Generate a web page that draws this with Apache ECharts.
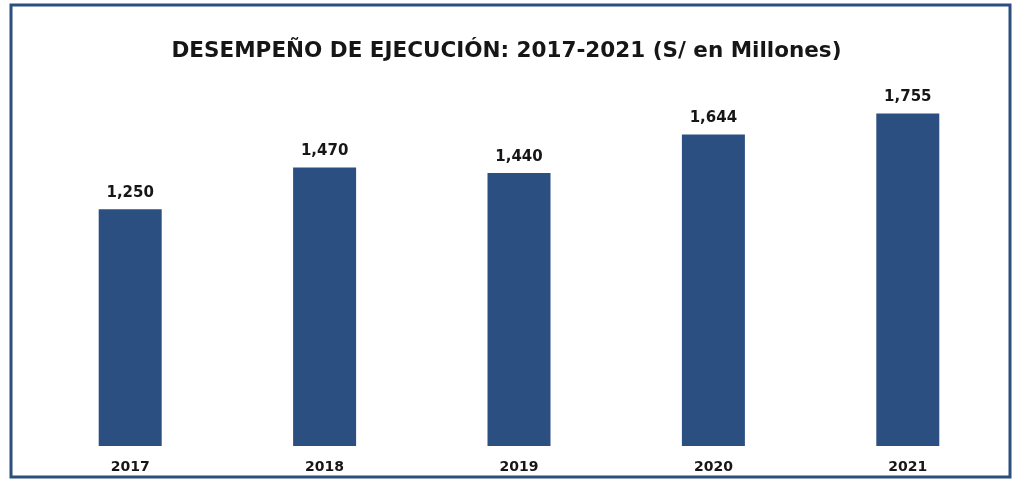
<!DOCTYPE html>
<html><head><meta charset="utf-8">
<script src="https://cdn.jsdelivr.net/npm/echarts@6/dist/echarts.min.js"></script>
<style>html,body{margin:0;padding:0;background:#fff}#c{width:1013px;height:479px}</style>
</head><body><div id="c"></div>
<script>
const categories = ['2017', '2018', '2019', '2020', '2021'];
const values = [1250, 1470, 1440, 1644, 1755];
const titleText = 'DESEMPEÑO DE EJECUCIÓN: 2017-2021 (S/ en Millones)';

const chart = echarts.init(document.getElementById('c'));
chart.setOption({
  backgroundColor: '#ffffff',
  animation: false,
  title: {
    text: titleText, left: 'center', top: 35,
    textStyle: { fontFamily: 'DejaVu Sans', fontWeight: 'bold', fontSize: 21.5, color: '#161616' }
  },
  grid: { left: 33, right: 8, top: 67, bottom: 33 },
  xAxis: {
    type: 'category', data: categories,
    axisLine: { show: false }, axisTick: { show: false },
    axisLabel: { margin: 14, fontFamily: 'DejaVu Sans', fontWeight: 'bold', fontSize: 14, color: '#161616' }
  },
  yAxis: { type: 'value', min: 0, max: 2000, show: false, splitLine: { show: false } },
  series: [{
    type: 'bar', data: values, barWidth: 63,
    itemStyle: { color: '#2c4f82' },
    label: {
      show: true, position: 'top', distance: 9,
      fontFamily: 'DejaVu Sans', fontWeight: 'bold', fontSize: 15, color: '#161616',
      formatter: p => p.value.toLocaleString('en-US')
    }
  }],
  graphic: [{
    type: 'rect', silent: true,
    shape: { x: 11, y: 5, width: 999, height: 472 },
    style: { fill: 'none', stroke: '#2c4f80', lineWidth: 3 }
  }]
});
</script></body></html>
